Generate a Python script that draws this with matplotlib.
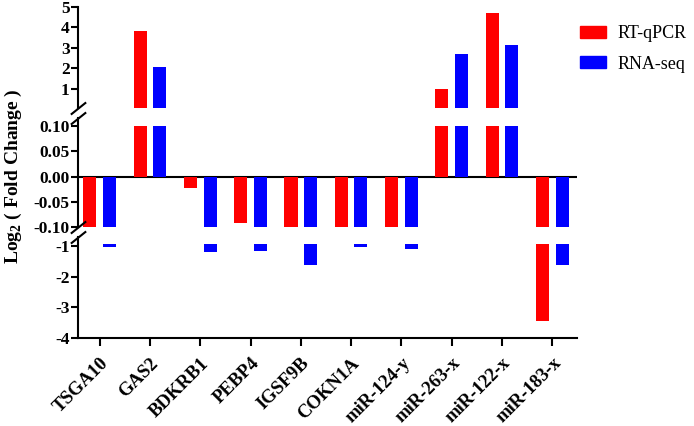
import matplotlib
matplotlib.use('Agg')
import numpy as np
import matplotlib.pyplot as plt
from matplotlib.patches import Patch

plt.rcParams['font.family'] = ['Liberation Serif']
plt.rcParams['mathtext.fontset'] = 'custom'
plt.rcParams['mathtext.rm'] = 'Liberation Serif:bold'
plt.rcParams['mathtext.bf'] = 'Liberation Serif:bold'
plt.rcParams['axes.unicode_minus'] = False

genes = ['TSGA10', 'GAS2', 'BDKRB1', 'PEBP4', 'IGSF9B', 'COKN1A',
         'miR-124-y', 'miR-263-x', 'miR-122-x', 'miR-183-x']
rt_qpcr = np.array([-0.6, 3.85, -0.022, -0.093, -0.6, -0.6, -0.6, 1.0, 4.7, -3.45])
rna_seq = np.array([-1.03, 2.07, -1.2, -1.17, -1.62, -1.03, -1.1, 2.7, 3.15, -1.62])

top_ticks = [1, 2, 3, 4, 5]
mid_ticks = [-0.10, -0.05, 0.00, 0.05, 0.10]
bot_ticks = [-4, -3, -2, -1]

RED = '#ff0000'
BLUE = '#0000ff'
W = 0.26
OFF = 0.195
cut = -0.93  # where bars start in the lower segment

fig = plt.figure(figsize=(6.94, 4.26), dpi=100)
H = 426.0


def add_seg(y0, y1):
    # y0 / y1 are pixel rows from top of the figure
    return fig.add_axes([78 / 694, 1 - y1 / H, 499 / 694, (y1 - y0) / H])


ax_top = add_seg(7, 108)
ax_mid = add_seg(118, 227)
ax_bot = add_seg(237, 338)

x = np.arange(len(genes))

for ax in (ax_top, ax_mid, ax_bot):
    ax.set_xlim(-0.43, 9.49)
    for s in ('top', 'right'):
        ax.spines[s].set_visible(False)
    ax.spines['left'].set_linewidth(1.5)
    ax.spines['bottom'].set_linewidth(1.5)
    ax.tick_params(axis='y', length=5, width=1.5, labelsize=12.5, pad=1)

# upper segment
ax_top.bar(x - OFF, np.clip(rt_qpcr, 0, None), W, color=RED)
ax_top.bar(x + OFF, np.clip(rna_seq, 0, None), W, color=BLUE)
ax_top.set_ylim(0.073, 5)
ax_top.set_yticks(top_ticks)
ax_top.set_yticklabels([str(t) for t in top_ticks], fontweight='bold')
ax_top.spines['bottom'].set_visible(False)
ax_top.set_xticks([])

# middle segment
ax_mid.bar(x - OFF, np.clip(rt_qpcr, -0.1, 0.1), W, color=RED)
ax_mid.bar(x + OFF, np.clip(rna_seq, -0.1, 0.1), W, color=BLUE)
ax_mid.axhline(0, color='black', lw=1.5, zorder=0)
ax_mid.set_ylim(-0.1, 0.116)
ax_mid.set_yticks(mid_ticks)
ax_mid.set_yticklabels(['%.2f' % t for t in mid_ticks], fontweight='bold')
ax_mid.spines['bottom'].set_visible(False)
ax_mid.set_xticks([])

# lower segment
ax_bot.bar(x - OFF, np.where(rt_qpcr < cut, rt_qpcr - cut, 0), W, bottom=cut, color=RED)
ax_bot.bar(x + OFF, np.where(rna_seq < cut, rna_seq - cut, 0), W, bottom=cut, color=BLUE)
ax_bot.set_ylim(-4, -0.707)
ax_bot.set_yticks(bot_ticks)
ax_bot.set_yticklabels([str(t) for t in bot_ticks], fontweight='bold')
ax_bot.set_xticks(x)
ax_bot.set_xticklabels(genes, rotation=45, ha='right', rotation_mode='anchor',
                       fontweight='bold', fontsize=13.5)
ax_bot.tick_params(axis='x', length=6, width=1.5, pad=6)

# break marks on the y axis
for ax, yy in ((ax_top, 0), (ax_mid, 1), (ax_mid, 0), (ax_bot, 1)):
    ax.plot([0], [yy], transform=ax.transAxes, marker=[(-1, -0.8), (1, 0.8)],
            markersize=11, mew=1.5, color='black', ls='none', clip_on=False)

fig.text(0.02, 1 - 176 / H, r'Log$_2$ ( Fold Change )', rotation=90,
         ha='center', va='center', fontsize=14, fontweight='bold')

handles = [Patch(color=RED, label='RT-qPCR'), Patch(color=BLUE, label='RNA-seq')]
fig.legend(handles=handles, loc='upper left', bbox_to_anchor=(573 / 694, 1 - 18 / H),
           frameon=False, fontsize=13, handlelength=1.4, handleheight=0.65,
           handletextpad=0.65, labelspacing=0.75, borderaxespad=0)

fig.savefig('out.png', dpi=100)
